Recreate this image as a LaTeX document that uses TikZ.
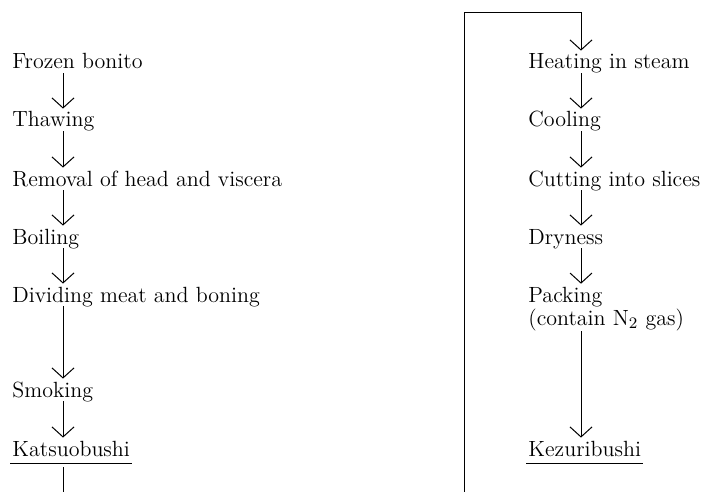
\documentclass[tikz,border=0pt]{standalone}
\usepackage{tikz}
\usetikzlibrary{arrows.meta}

\begin{document}
\begin{tikzpicture}[x=0.5pt,y=-0.5pt,
    stage/.style={anchor=base west,inner sep=0pt,text height=9pt,text depth=2pt,
      font=\fontsize{11}{11.5}\selectfont},
    product/.style={stage,text depth=3.5pt},
    twoline/.style={anchor=north west,inner sep=0pt,align=left,
      font=\fontsize{11}{11.5}\selectfont},
    flow/.style={-{Straight Barb[length=5pt,width=11pt]},line width=0.5pt},
    rule/.style={line width=0.5pt}]
    \useasboundingbox (0,0) rectangle (702,492);
    % columns of the arrows
    \coordinate (lc) at (63,0);
    \coordinate (rc) at (581,0);
    \coordinate (lend) at (63,492);
    \coordinate (rbot) at (464,492);
    \coordinate (rtop) at (464,13);
    % left column
    \node[stage] (frozen) at (12,69) {Frozen bonito};
    \node[stage] (thaw) at (12,127) {Thawing};
    \node[stage] (removal) at (12,186) {Removal of head and viscera};
    \node[stage] (boil) at (12,244) {Boiling};
    \node[stage] (divide) at (12,302) {Dividing meat and boning};
    \node[stage] (smoke) at (12,397) {Smoking};
    \node[product] (kat) at (12,456) {Katsuobushi};
    \draw[flow] (frozen.south -| lc) -- (thaw.north -| lc);
    \draw[flow] (thaw.south -| lc) -- (removal.north -| lc);
    \draw[flow] (removal.south -| lc) -- (boil.north -| lc);
    \draw[flow] (boil.south -| lc) -- (divide.north -| lc);
    \draw[flow] (divide.south -| lc) -- (smoke.north -| lc);
    \draw[flow] (smoke.south -| lc) -- (kat.north -| lc);
    \draw[rule] ([xshift=-1pt]kat.south west) -- ([xshift=1pt]kat.south east);
    \draw[rule] (kat.south -| lc) ++(0,4) -- (lend);
    % right column
    \node[stage] (heat) at (528,69) {Heating in steam};
    \node[stage] (cool) at (528,127) {Cooling};
    \node[stage] (cut) at (528,186) {Cutting into slices};
    \node[stage] (dry) at (528,244) {Dryness};
    \node[twoline] (pack) at (528,286.7) {Packing\\(contain N$_2$ gas)};
    \node[product] (kez) at (528,456) {Kezuribushi};
    \draw[flow] (rbot) -- (rtop) -| (heat.north -| rc);
    \draw[flow] (heat.south -| rc) -- (cool.north -| rc);
    \draw[flow] (cool.south -| rc) -- (cut.north -| rc);
    \draw[flow] (cut.south -| rc) -- (dry.north -| rc);
    \draw[flow,shorten >=1.5pt] (dry.south -| rc) -- (pack.north -| rc);
    \draw[flow] (pack.south -| rc) -- (kez.north -| rc);
    \draw[rule] ([xshift=-1pt]kez.south west) -- ([xshift=1pt]kez.south east);
\end{tikzpicture}
\end{document}
